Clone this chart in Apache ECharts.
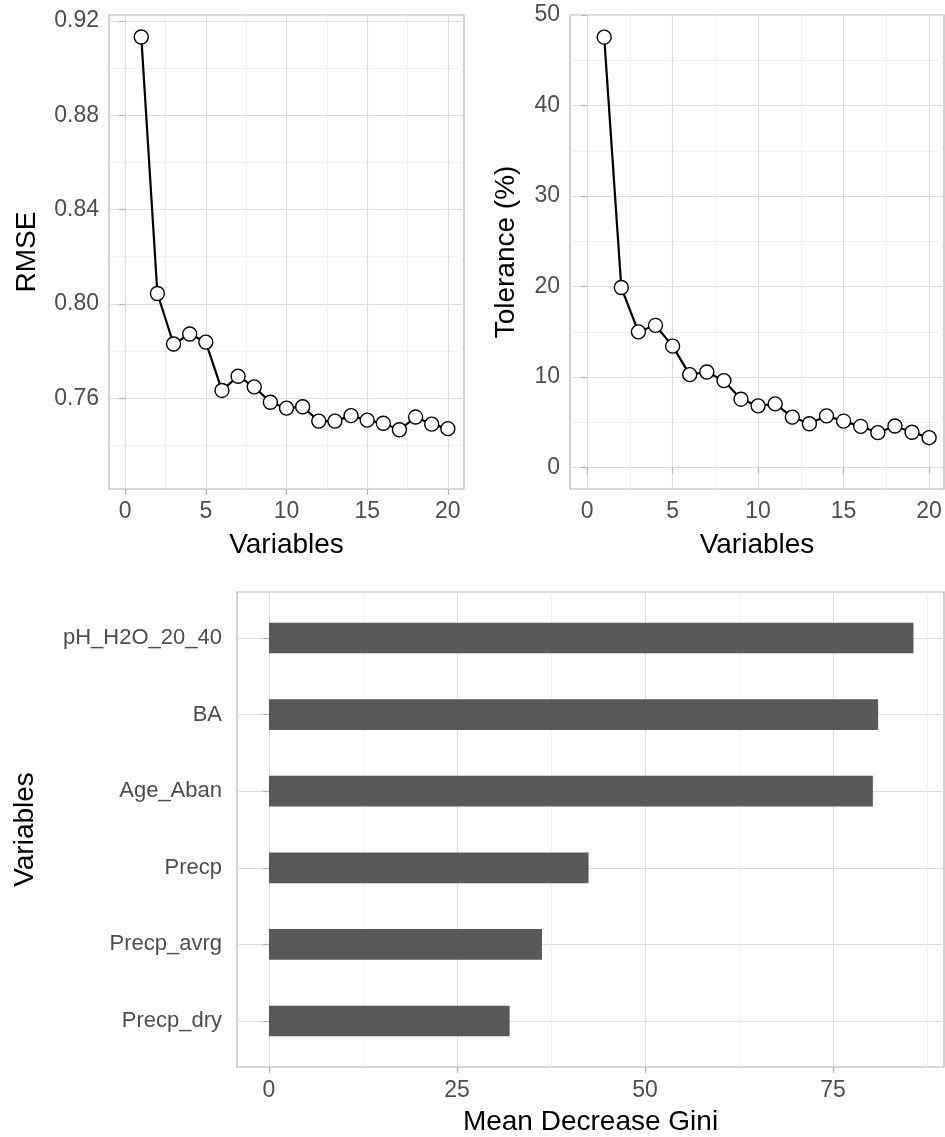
<!DOCTYPE html>
<html>
<head>
<meta charset="utf-8">
<script src="https://cdn.jsdelivr.net/npm/echarts@6/dist/echarts.min.js"></script>
<style>
  html, body { margin: 0; padding: 0; background: #fff; }
  #chart { width: 945px; height: 1137px; }
</style>
</head>
<body>
<div id="chart"></div>
<script>
// number of variables kept in the model
var nVars = [1, 2, 3, 4, 5, 6, 7, 8, 9, 10, 11, 12, 13, 14, 15, 16, 17, 18, 19, 20];
var rmse = [0.9132, 0.8044, 0.7830, 0.7872, 0.7838, 0.7633, 0.7693, 0.7648, 0.7583, 0.7558,
            0.7564, 0.7503, 0.7503, 0.7526, 0.7507, 0.7494, 0.7466, 0.7520, 0.7490, 0.7471];
var tolerance = [47.55, 19.89, 14.99, 15.71, 13.41, 10.26, 10.55, 9.60, 7.55, 6.81,
                 7.03, 5.57, 4.84, 5.71, 5.13, 4.55, 3.85, 4.58, 3.89, 3.30];

// variable importance
var varNames = ['pH_H2O_20_40', 'BA', 'Age_Aban', 'Precp', 'Precp_avrg', 'Precp_dry'];
var gini = [85.7, 81.0, 80.3, 42.5, 36.3, 32.0];

// tick labels
var stepTicks = [0, 5, 10, 15, 20];
var rmseTicks = [0.76, 0.80, 0.84, 0.88, 0.92];
var tolTicks = [0, 10, 20, 30, 40, 50];
var giniTicks = [0, 25, 50, 75];

var FONT = 'Liberation Sans, Arial, sans-serif';
var GRID_COL = '#DEDEDE';
var MINOR_COL = '#EDEDED';
var FRAME_COL = '#B3B3B3';

// half-way lines between major ticks (ggplot minor grid)
function minorOf(ticks, lo, hi) {
  var step = ticks[1] - ticks[0];
  var out = [];
  ticks.concat([ticks[ticks.length - 1] + step]).forEach(function (t) {
    var m = +(t - step / 2).toFixed(6);
    if (m > lo && m < hi) out.push(m);
  });
  return out;
}

function mainAxis(grid, min, max, ticks, name, gap, isX, labelExtra, axisExtra) {
  var ax = {
    type: 'value',
    gridIndex: grid,
    min: min,
    max: max,
    name: name,
    nameLocation: 'middle',
    nameGap: gap,
    nameTextStyle: { fontFamily: FONT, fontSize: 28, color: '#000' },
    axisLine: { show: false },
    axisTick: { show: true, length: 6, customValues: ticks, lineStyle: { color: FRAME_COL, width: 1.2 } },
    axisLabel: { customValues: ticks, fontFamily: FONT, fontSize: 23, color: '#4D4D4D', margin: isX ? 11 : 10 },
    splitLine: { show: true, lineStyle: { color: GRID_COL, width: 1.2 } }
  };
  if (labelExtra) Object.assign(ax.axisLabel, labelExtra);
  if (axisExtra) Object.assign(ax, axisExtra);
  return ax;
}

function minorAxis(grid, min, max, vals, axisExtra) {
  var ax = {
    type: 'value',
    gridIndex: grid,
    min: min,
    max: max,
    axisLine: { show: false },
    axisLabel: { show: false },
    axisTick: { show: false, customValues: vals },
    splitLine: { show: true, lineStyle: { color: MINOR_COL, width: 0.8 } }
  };
  if (axisExtra) Object.assign(ax, axisExtra);
  return ax;
}

var rmseMin = 0.7215, rmseMax = 0.9225;
var tolMin = -2.375, tolMax = 50;
var stepMax2 = 20.87;   // right panel is cut at the page edge
var giniMin = -4.25, giniMax = 89.76;

var chart = echarts.init(document.getElementById('chart'));

chart.setOption({
  animation: false,
  backgroundColor: '#fff',
  grid: [
    { left: 109, top: 15, width: 355, height: 474, show: true, borderColor: FRAME_COL, borderWidth: 1.2, backgroundColor: 'transparent' },
    { left: 570, top: 15, width: 374, height: 474, show: true, borderColor: FRAME_COL, borderWidth: 1.2, backgroundColor: 'transparent' },
    { left: 237, top: 592, width: 707, height: 475, show: true, borderColor: FRAME_COL, borderWidth: 1.2, backgroundColor: 'transparent' }
  ],
  xAxis: [
    mainAxis(0, -1, 21, stepTicks, 'Variables', 42, true),
    minorAxis(0, -1, 21, minorOf(stepTicks, -1, 21)),
    mainAxis(1, -1, stepMax2, stepTicks, 'Variables', 42, true),
    minorAxis(1, -1, stepMax2, minorOf(stepTicks, -1, stepMax2)),
    mainAxis(2, giniMin, giniMax, giniTicks, 'Mean Decrease Gini', 41, true, { margin: 12 }),
    minorAxis(2, giniMin, giniMax, minorOf(giniTicks, giniMin, giniMax))
  ],
  yAxis: [
    mainAxis(0, rmseMin, rmseMax, rmseTicks, 'RMSE', 68, false, {
      formatter: function (v) { return v.toFixed(2); }
    }),
    minorAxis(0, rmseMin, rmseMax, minorOf(rmseTicks, rmseMin, rmseMax)),
    mainAxis(1, tolMin, tolMax, tolTicks, 'Tolerance (%)', 50, false),
    minorAxis(1, tolMin, tolMax, minorOf(tolTicks, tolMin, tolMax)),
    mainAxis(2, 0.4, varNames.length + 0.6, varNames.map(function (n, i) { return i + 1; }),
      'Variables', 198, false, {
        margin: 15,
        fontSize: 22,
        formatter: function (v) { return varNames[Math.round(v) - 1] || ''; }
      }, { inverse: true })
  ],
  series: [
    {
      type: 'line',
      xAxisIndex: 0,
      yAxisIndex: 0,
      data: nVars.map(function (n, i) { return [n, rmse[i]]; }),
      symbol: 'circle',
      symbolSize: 14,
      lineStyle: { color: '#000', width: 2.2 },
      itemStyle: { color: '#fff', borderColor: '#000', borderWidth: 1.4 }
    },
    {
      type: 'line',
      xAxisIndex: 2,
      yAxisIndex: 2,
      data: nVars.map(function (n, i) { return [n, tolerance[i]]; }),
      symbol: 'circle',
      symbolSize: 14,
      lineStyle: { color: '#000', width: 2.2 },
      itemStyle: { color: '#fff', borderColor: '#000', borderWidth: 1.4 }
    },
    {
      type: 'custom',
      xAxisIndex: 4,
      yAxisIndex: 4,
      data: gini.map(function (g, i) { return [g, i + 1]; }),
      encode: { x: 0, y: 1 },
      renderItem: function (params, api) {
        var v = api.value(0), pos = api.value(1);
        var a = api.coord([0, pos - 0.2]);
        var b = api.coord([v, pos + 0.2]);
        return {
          type: 'rect',
          shape: { x: a[0], y: Math.min(a[1], b[1]), width: b[0] - a[0], height: Math.abs(b[1] - a[1]) },
          style: { fill: '#595959' }
        };
      }
    }
  ]
});
</script>
</body>
</html>
